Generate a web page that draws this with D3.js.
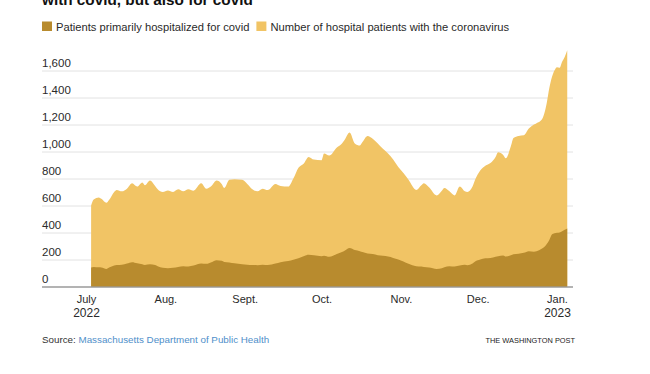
<!DOCTYPE html>
<html>
<head>
<meta charset="utf-8">
<script src="https://cdn.jsdelivr.net/npm/d3@7"></script>
<style>
body { margin: 0; background: #fff; }
svg { display: block; }
</style>
</head>
<body>
<script>
// daily-ish readings, Jul 3 2022 - Jan 5 2023
var dates = [
    "2022-07-03", "2022-07-04", "2022-07-06", "2022-07-07", "2022-07-09", "2022-07-10", "2022-07-12", "2022-07-13", "2022-07-15",
    "2022-07-17", "2022-07-19", "2022-07-21", "2022-07-23", "2022-07-24", "2022-07-26", "2022-07-28", "2022-07-29", "2022-07-31",
    "2022-08-02", "2022-08-04", "2022-08-06", "2022-08-08", "2022-08-10", "2022-08-12", "2022-08-15", "2022-08-17",
    "2022-08-19", "2022-08-21", "2022-08-23", "2022-08-24", "2022-08-26", "2022-08-28", "2022-08-31",
    "2022-09-02", "2022-09-04", "2022-09-06", "2022-09-08", "2022-09-10", "2022-09-13", "2022-09-15",
    "2022-09-18", "2022-09-20", "2022-09-22", "2022-09-24", "2022-09-26", "2022-09-28",
    "2022-10-01", "2022-10-02", "2022-10-04", "2022-10-07", "2022-10-09", "2022-10-10", "2022-10-12", "2022-10-14", "2022-10-16",
    "2022-10-17", "2022-10-19", "2022-10-21", "2022-10-23", "2022-10-25", "2022-10-27", "2022-10-29", "2022-10-31",
    "2022-11-02", "2022-11-04", "2022-11-07", "2022-11-09", "2022-11-10", "2022-11-12", "2022-11-15", "2022-11-17",
    "2022-11-18", "2022-11-20", "2022-11-22", "2022-11-24", "2022-11-26", "2022-11-27", "2022-11-29", "2022-11-30",
    "2022-12-02", "2022-12-04", "2022-12-06", "2022-12-08", "2022-12-09", "2022-12-11", "2022-12-12", "2022-12-14", "2022-12-15",
    "2022-12-17", "2022-12-19", "2022-12-21", "2022-12-23", "2022-12-24", "2022-12-26", "2022-12-27", "2022-12-28", "2022-12-29",
    "2022-12-30", "2022-12-31",
    "2023-01-01", "2023-01-02", "2023-01-03", "2023-01-04", "2023-01-05"
]

var totalPatients = [
    600, 645, 660, 650, 620, 640, 700, 715, 705, 725, 765, 740, 770, 750, 785, 745, 720, 700,
    712, 700, 720, 705, 720, 710, 765, 725, 745, 785, 760, 730, 790, 795, 790,
    760, 720, 705, 725, 715, 760, 745, 740, 800, 880, 910, 960, 940,
    935, 985, 970, 1030, 1060, 1085, 1140, 1060, 1045, 1070, 1115, 1095, 1060, 1020, 985, 940, 885,
    840, 790, 715, 750, 765, 735, 675, 710, 730, 705, 675, 740, 705, 700, 740, 790,
    860, 895, 915, 960, 995, 975, 950, 1040, 1100, 1115, 1120, 1170, 1200, 1210, 1235, 1280, 1360, 1470, 1550, 1600,
    1625, 1620, 1665, 1700, 1750
]

var primaryCovid = [
    140, 145, 142, 140, 130, 140, 155, 160, 162, 170, 180, 172, 165, 160, 165, 160, 150, 138,
    135, 138, 145, 150, 148, 155, 170, 168, 180, 195, 190, 182, 178, 172, 165,
    162, 160, 158, 162, 160, 170, 180, 188, 198, 210, 225, 235, 232,
    225, 228, 220, 240, 255, 265, 285, 270, 262, 255, 245, 240, 232, 228, 222, 212, 200,
    185, 168, 150, 148, 145, 140, 130, 135, 142, 150, 148, 155, 162, 158, 170, 185,
    200, 210, 212, 220, 225, 230, 222, 232, 238, 242, 250, 262, 258, 262, 280, 292, 315, 345, 385, 395,
    398, 400, 410, 420, 430
]

var yTicks = [0, 200, 400, 600, 800, 1000, 1200, 1400, 1600]
var monthTicks = ["2022-07-01", "2022-08-01", "2022-09-01", "2022-10-01", "2022-11-01", "2022-12-01", "2023-01-01"]
var monthLabels = ["July", "Aug.", "Sept.", "Oct.", "Nov.", "Dec.", "Jan."]
var yearLabels = ["2022", "", "", "", "", "", "2023"]

var legendLabels = ["Patients primarily hospitalized for covid", "Number of hospital patients with the coronavirus"]

var width = 650
var height = 374
var font = '"Liberation Sans", Arial, sans-serif'

var lightColor = "#f1c465"
var darkColor = "#b88b2e"
var gridColor = "#e2e2e2"
var textColor = "#2a2a2a"

var parseDate = d3.timeParse("%Y-%m-%d")

var rows = dates.map(function (d, i) {
    return { date: parseDate(d), total: totalPatients[i], primary: primaryCovid[i] }
})

var svg = d3.select("body")
    .append("svg")
    .attr("width", width)
    .attr("height", height)
    .style("font-family", font)

var x = d3.scaleTime()
    .domain([parseDate("2022-07-01"), parseDate("2023-01-01")])
    .range([86, 557])

var y = d3.scaleLinear()
    .domain([0, 1600])
    .range([286.5, 70.5])

// title (only the last line is visible)
svg.append("text")
    .attr("x", 42)
    .attr("y", 5)
    .style("font-weight", "bold")
    .style("font-size", "15.3px")
    .attr("fill", "#111")
    .text("with covid, but also for covid")

// legend
var legend = svg.append("g")
var lx = 42
legendLabels.forEach(function (label, i) {
    legend.append("rect")
        .attr("x", lx)
        .attr("y", 21.5)
        .attr("width", 10)
        .attr("height", 9.5)
        .attr("fill", i === 0 ? darkColor : lightColor)
    var t = legend.append("text")
        .attr("x", lx + 14)
        .attr("y", 30.5)
        .style("font-size", "11.2px")
        .attr("fill", textColor)
        .text(label)
    lx = lx + 14 + t.node().getComputedTextLength() + 7
})

// y gridlines + labels
var yAxis = svg.append("g")
    .attr("transform", "translate(42,0)")
    .call(d3.axisRight(y).tickValues(yTicks).tickSize(531).tickFormat(d3.format(",")))

yAxis.select(".domain").remove()
yAxis.selectAll(".tick line")
    .attr("stroke", gridColor)
yAxis.selectAll(".tick text")
    .attr("x", 0)
    .attr("dy", -4)
    .attr("text-anchor", "start")
    .style("font-family", font)
    .style("font-size", "11.5px")
    .attr("fill", textColor)

// areas
var totalArea = d3.area()
    .x(function (d) { return x(d.date) })
    .y0(y(0))
    .y1(function (d) { return y(d.total) })
    .curve(d3.curveMonotoneX)

var primaryArea = d3.area()
    .x(function (d) { return x(d.date) })
    .y0(y(0))
    .y1(function (d) { return y(d.primary) })
    .curve(d3.curveMonotoneX)

svg.append("path")
    .datum(rows)
    .attr("d", totalArea)
    .attr("fill", lightColor)

svg.append("path")
    .datum(rows)
    .attr("d", primaryArea)
    .attr("fill", darkColor)

// baseline
svg.append("line")
    .attr("x1", 42)
    .attr("x2", 573)
    .attr("y1", y(0) + 0.5)
    .attr("y2", y(0) + 0.5)
    .attr("stroke", "#777")
    .attr("stroke-width", 1.2)

// x axis labels
var xAxis = svg.append("g")
    .attr("transform", "translate(0," + y(0) + ")")
    .call(d3.axisBottom(x).tickValues(monthTicks.map(parseDate)).tickSize(0))

xAxis.select(".domain").remove()
xAxis.selectAll(".tick text").remove()
xAxis.selectAll(".tick").each(function (d, i) {
    var g = d3.select(this)
    g.append("text")
        .attr("y", 16)
        .attr("text-anchor", "middle")
        .style("font-family", font)
        .style("font-size", "11px")
        .attr("fill", textColor)
        .text(monthLabels[i])
    if (yearLabels[i]) {
        g.append("text")
            .attr("y", 30.5)
            .attr("text-anchor", "middle")
            .style("font-family", font)
            .style("font-size", "12px")
            .attr("fill", textColor)
            .text(yearLabels[i])
    }
})

// footer
var source = svg.append("text")
    .attr("x", 42)
    .attr("y", 343)
    .style("font-size", "9.8px")
    .attr("fill", "#333")
source.append("tspan").text("Source: ")
source.append("tspan").attr("fill", "#4f8fca").text("Massachusetts Department of Public Health")

svg.append("text")
    .attr("x", 575)
    .attr("y", 343)
    .attr("text-anchor", "end")
    .style("font-size", "7.4px")
    .attr("fill", "#222")
    .text("THE WASHINGTON POST")
</script>
</body>
</html>
